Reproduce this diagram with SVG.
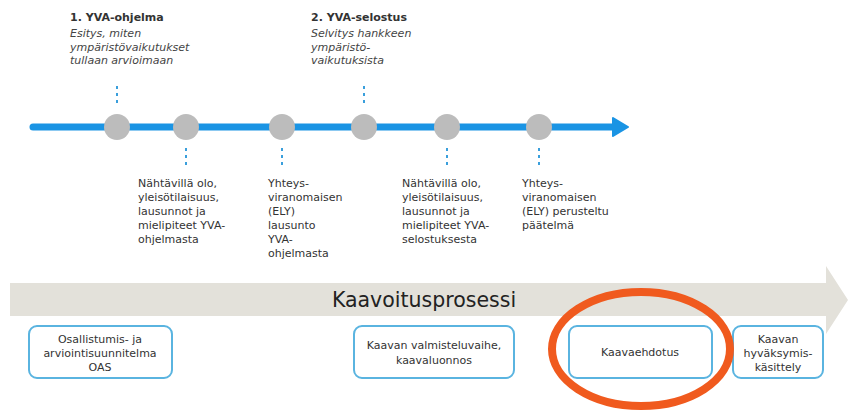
<svg xmlns="http://www.w3.org/2000/svg" width="851" height="412" viewBox="0 0 851 412">
<style>
.t{font-family:"DejaVu Sans","Liberation Sans",sans-serif;font-size:11px;fill:#333}
.h{font-family:"DejaVu Sans","Liberation Sans",sans-serif;font-size:11px;font-weight:bold;fill:#333}
.i{font-family:"DejaVu Sans","Liberation Sans",sans-serif;font-size:11px;font-style:italic;fill:#444}
.b{font-family:"DejaVu Sans","Liberation Sans",sans-serif;font-size:11px;fill:#333;text-anchor:middle}
.dot{stroke:#3a9fdc;stroke-width:2;stroke-dasharray:3 4}
.c{fill:#bcbcbc}
.box{fill:#fff;stroke:#5ab4e0;stroke-width:2}
</style>
<rect width="851" height="412" fill="#fff"/>
<g id="timeline">
<line x1="33" y1="127" x2="616" y2="127" stroke="#1a94e4" stroke-width="7" stroke-linecap="round"/>
<path d="M613,118 L628,127 L613,136 Z" fill="#1a94e4" stroke="#1a94e4" stroke-width="2" stroke-linejoin="round"/>
</g>
<g id="connectors">
<line class="dot" x1="117" y1="86" x2="117" y2="106"/>
<line class="dot" x1="364" y1="86" x2="364" y2="106"/>
<line class="dot" x1="186" y1="148" x2="186" y2="168"/>
<line class="dot" x1="282" y1="148" x2="282" y2="168"/>
<line class="dot" x1="447" y1="148" x2="447" y2="168"/>
<line class="dot" x1="539" y1="148" x2="539" y2="168"/>
</g>
<g id="m1"><circle class="c" cx="117" cy="127" r="13"/></g>
<g id="m2"><circle class="c" cx="186" cy="127" r="13"/></g>
<g id="m3"><circle class="c" cx="282" cy="127" r="13"/></g>
<g id="m4"><circle class="c" cx="364" cy="127" r="13"/></g>
<g id="m5"><circle class="c" cx="447" cy="127" r="13"/></g>
<g id="m6"><circle class="c" cx="539" cy="127" r="13"/></g>
<g id="yva1">
<text class="h" x="70" y="21">1. YVA-ohjelma</text>
<text class="i" x="70" y="37">Esitys, miten</text>
<text class="i" x="70" y="51">ympäristövaikutukset</text>
<text class="i" x="70" y="64">tullaan arvioimaan</text>
</g>
<g id="yva2">
<text class="h" x="311" y="21">2. YVA-selostus</text>
<text class="i" x="311" y="37">Selvitys hankkeen</text>
<text class="i" x="311" y="51">ympäristö-</text>
<text class="i" x="311" y="64">vaikutuksista</text>
</g>
<g id="t1">
<text class="t" x="138" y="187">Nähtävillä olo,</text>
<text class="t" x="138" y="201">yleisötilaisuus,</text>
<text class="t" x="138" y="215">lausunnot ja</text>
<text class="t" x="138" y="229">mielipiteet YVA-</text>
<text class="t" x="138" y="243">ohjelmasta</text>
</g>
<g id="t2">
<text class="t" x="268" y="187">Yhteys-</text>
<text class="t" x="268" y="201">viranomaisen</text>
<text class="t" x="268" y="215">(ELY)</text>
<text class="t" x="268" y="229">lausunto</text>
<text class="t" x="268" y="243">YVA-</text>
<text class="t" x="268" y="257">ohjelmasta</text>
</g>
<g id="t3">
<text class="t" x="402" y="187">Nähtävillä olo,</text>
<text class="t" x="402" y="201">yleisötilaisuus,</text>
<text class="t" x="402" y="215">lausunnot ja</text>
<text class="t" x="402" y="229">mielipiteet YVA-</text>
<text class="t" x="402" y="243">selostuksesta</text>
</g>
<g id="t4">
<text class="t" x="522" y="187">Yhteys-</text>
<text class="t" x="522" y="201">viranomaisen</text>
<text class="t" x="522" y="215">(ELY) perusteltu</text>
<text class="t" x="522" y="229">päätelmä</text>
</g>
<g id="process">
<path d="M10,283 L826,283 L826,266 L848,300 L826,334 L826,316 L10,316 Z" fill="#e3e1da"/>
<text x="424" y="307" font-family="DejaVu Sans, Liberation Sans, sans-serif" font-size="20.5" fill="#222" text-anchor="middle">Kaavoitusprosessi</text>
</g>
<g id="oas">
<rect class="box" x="29" y="326" width="143" height="52" rx="8"/>
<text class="b" x="100" y="343">Osallistumis- ja</text>
<text class="b" x="100" y="357">arviointisuunnitelma</text>
<text class="b" x="100" y="371">OAS</text>
</g>
<g id="luonnos">
<rect class="box" x="354" y="326" width="160" height="52" rx="8"/>
<text class="b" x="434" y="349">Kaavan valmisteluvaihe,</text>
<text class="b" x="434" y="364">kaavaluonnos</text>
</g>
<g id="ehdotus">
<rect class="box" x="569" y="326" width="143" height="52" rx="8"/>
<text class="b" x="640" y="356">Kaavaehdotus</text>
</g>
<g id="hyvaksyminen">
<rect class="box" x="733" y="326" width="90" height="52" rx="8"/>
<text class="b" x="778" y="343">Kaavan</text>
<text class="b" x="778" y="357">hyväksymis-</text>
<text class="b" x="778" y="371">käsittely</text>
</g>
<g id="highlight">
<ellipse cx="641" cy="349" rx="89" ry="57" fill="none" stroke="#f05a1e" stroke-width="8"/>
</g>
</svg>
